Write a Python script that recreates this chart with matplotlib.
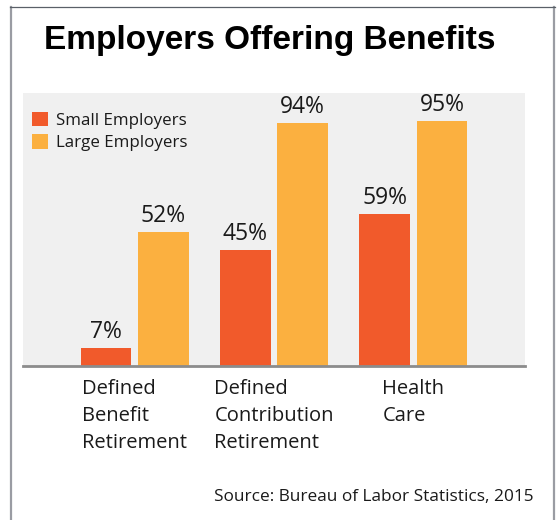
import matplotlib
matplotlib.use("Agg")
import matplotlib.pyplot as plt
import numpy as np
from matplotlib.lines import Line2D

categories = ["Defined\nBenefit\nRetirement", "Defined\nContribution\nRetirement", "Health\nCare"]
small_employers = [7, 45, 59]
large_employers = [52, 94, 95]
series_names = ["Small Employers", "Large Employers"]

SMALL_COLOR = "#F15A2B"
LARGE_COLOR = "#FBB040"
BODY_FONT = "Open Sans"

W, H = 557, 520
fig = plt.figure(figsize=(W / 100, H / 100), dpi=100)
fig.patch.set_facecolor("white")

# frame round the whole graphic (open at the bottom)
fig.add_artist(Line2D([10.5 / W, 10.5 / W], [0, 1 - 7 / H], transform=fig.transFigure,
                      color="#9A9CA3", lw=1.6))
fig.add_artist(Line2D([554 / W, 554 / W], [0, 1 - 7 / H], transform=fig.transFigure,
                      color="#9A9CA3", lw=1.6))
fig.add_artist(Line2D([10 / W, 554.5 / W], [1 - 7 / H, 1 - 7 / H], transform=fig.transFigure,
                      color="#5A6068", lw=0.9))

ax = fig.add_axes([23 / W, (H - 366) / H, (525 - 23) / W, (366 - 93) / H])
ax.set_facecolor("#F0F0F0")

x = np.arange(len(categories))
width = 0.365
offset = 0.205
b1 = ax.bar(x - offset, small_employers, width, color=SMALL_COLOR, label=series_names[0], zorder=2)
b2 = ax.bar(x + offset, large_employers, width, color=LARGE_COLOR, label=series_names[1], zorder=2)

for bars, vals in ((b1, small_employers), (b2, large_employers)):
    for bar, v in zip(bars, vals):
        ax.annotate(f"{v}%", (bar.get_x() + bar.get_width() / 2, v),
                    xytext=(0, 3), textcoords="offset points",
                    ha="center", va="bottom", fontsize=16.5, family=BODY_FONT, color="#1A1A1A")

ax.set_xlim(-0.8, 2.8)
ax.set_ylim(0, 105.8)
ax.set_yticks([])
ax.set_xticks(x)
ax.set_xticklabels(categories, fontsize=14.5, family=BODY_FONT, color="#1A1A1A",
                   ha="center", va="top", multialignment="left", linespacing=1.5)
ax.tick_params(axis="x", length=0, pad=9)
for side in ("top", "left", "right"):
    ax.spines[side].set_visible(False)
ax.spines["bottom"].set_color("#8C8C8C")
ax.spines["bottom"].set_linewidth(2)

leg = ax.legend(loc="upper left", bbox_to_anchor=(-0.005, 0.975), frameon=False,
                prop={"family": BODY_FONT, "size": 12.2}, handlelength=0.9, handleheight=0.9,
                handletextpad=0.5, labelspacing=0.35, borderaxespad=0.3)
for t in leg.get_texts():
    t.set_color("#1A1A1A")

fig.text(270 / W, 1 - 40 / H, "Employers Offering Benefits", ha="center", va="center",
         fontsize=24, fontweight="bold", family="Liberation Sans", color="black")
fig.text(214 / W, 1 - 497 / H, "Source: Bureau of Labor Statistics, 2015", ha="left", va="center",
         fontsize=12.4, family=BODY_FONT, color="#1A1A1A")

fig.savefig("out.png", dpi=100)
